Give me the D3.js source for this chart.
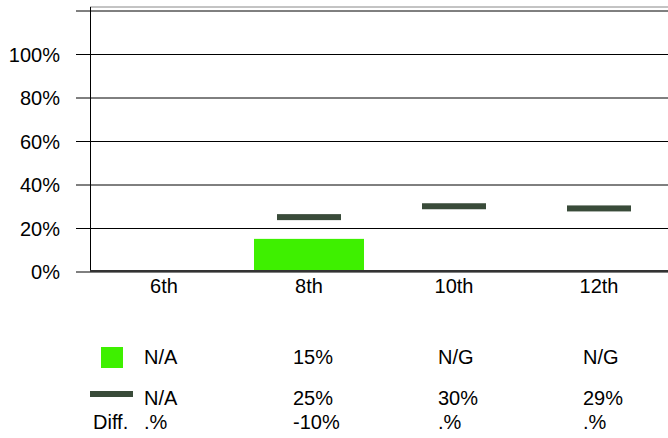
<!DOCTYPE html>
<html>
<head>
<meta charset="utf-8">
<script src="https://cdn.jsdelivr.net/npm/d3@7"></script>
<style>
  html, body { margin: 0; padding: 0; background: #fff; }
  svg text { font-family: "Liberation Sans", Arial, sans-serif; fill: #000; }
</style>
</head>
<body>
<svg id="chart" width="668" height="438"></svg>
<script>
// Grades shown along the x axis
const grades = ["6th", "8th", "10th", "12th"];
// Bar series (green) — null where no value is available
const barValues = [null, 0.15, null, null];
// Marker series (dark dash)
const markValues = [null, 0.25, 0.30, 0.29];
// Table rows under the chart
const barRowLabels = ["N/A", "15%", "N/G", "N/G"];
const markRowLabels = ["N/A", "25%", "30%", "29%"];
const diffRowLabels = [".%", "-10%", ".%", ".%"];
// Value axis ticks
const yTicks = [0, 0.2, 0.4, 0.6, 0.8, 1.0, 1.2];
const yTickLabels = ["0%", "20%", "40%", "60%", "80%", "100%", ""];

const FONT = "20px";
const svg = d3.select("#chart");
const W = 668;
const x0 = 90;

const x = d3.scaleBand().domain(grades).range([x0 + 1.5, x0 + 1.5 + 145 * 4]).padding(0);
const y = d3.scaleLinear().domain([0, 1.2]).range([271.5, 10.5]);

// frame top
svg.append("line")
  .attr("x1", x0).attr("x2", W).attr("y1", 7).attr("y2", 7)
  .attr("stroke", "#888").attr("stroke-width", 1);

// horizontal gridlines with left ticks
const yAxis = d3.axisLeft(y).tickValues(yTicks)
  .tickFormat((d, i) => yTickLabels[i])
  .tickSize(-(W - x0)).tickSizeOuter(0);
const gy = svg.append("g").attr("transform", `translate(${x0},0)`).call(yAxis);
gy.attr("font-size", null).attr("font-family", null);
gy.select(".domain").remove();
gy.selectAll(".tick line").attr("stroke", "#000").attr("x1", -14);
gy.selectAll(".tick text")
  .attr("x", -30).attr("dy", "0.36em")
  .attr("fill", "#000")
  .style("font-size", FONT);

// vertical axis line
svg.append("line")
  .attr("x1", x0 + 0.5).attr("x2", x0 + 0.5).attr("y1", 7).attr("y2", 271)
  .attr("stroke", "#000");

// bars
svg.append("g").selectAll("rect")
  .data(grades.map((g, i) => ({ g, v: barValues[i] })).filter(d => d.v != null))
  .join("rect")
  .attr("x", d => x(d.g) + x.bandwidth() / 2 - 55)
  .attr("width", 110)
  .attr("y", d => y(d.v))
  .attr("height", d => y(0) - y(d.v))
  .attr("fill", "#3ef000");

// x axis baseline
svg.append("line")
  .attr("x1", x0).attr("x2", W).attr("y1", 271).attr("y2", 271)
  .attr("stroke", "#333").attr("stroke-width", 2);

// dash markers
svg.append("g").selectAll("rect")
  .data(grades.map((g, i) => ({ g, v: markValues[i] })).filter(d => d.v != null))
  .join("rect")
  .attr("x", d => x(d.g) + x.bandwidth() / 2 - 32)
  .attr("width", 64)
  .attr("y", d => y(d.v) - 3)
  .attr("height", 6)
  .attr("fill", "#394b39");

// category labels
svg.append("g").selectAll("text")
  .data(grades)
  .join("text")
  .attr("x", d => x(d) + x.bandwidth() / 2)
  .attr("y", 293)
  .attr("text-anchor", "middle")
  .style("font-size", FONT)
  .text(d => d);

// table under chart
const colX = (i) => i === 0 ? 144 : x(grades[i]) + 56.5;
function row(labels, baseline) {
  svg.append("g").selectAll("text")
    .data(labels)
    .join("text")
    .attr("x", (d, i) => colX(i))
    .attr("y", baseline)
    .style("font-size", FONT)
    .text(d => d);
}
row(barRowLabels, 364);
row(markRowLabels, 405);
row(diffRowLabels, 429);

// legend swatches
svg.append("rect").attr("x", 101).attr("y", 347).attr("width", 22).attr("height", 21).attr("fill", "#3ef000");
svg.append("rect").attr("x", 90).attr("y", 391).attr("width", 43).attr("height", 6).attr("fill", "#394b39");
svg.append("text").attr("x", 93).attr("y", 429).style("font-size", FONT).text("Diff.");
</script>
</body>
</html>
